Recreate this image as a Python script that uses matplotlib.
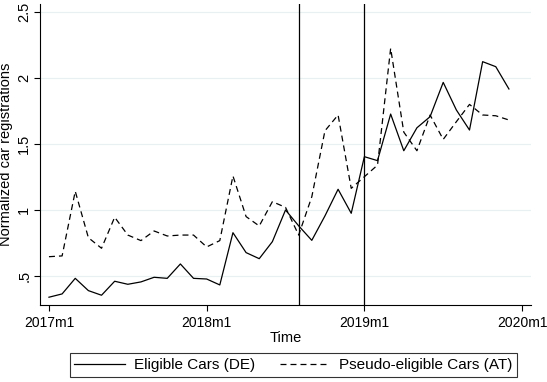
import matplotlib
matplotlib.use("Agg")
import matplotlib.pyplot as plt
from matplotlib.lines import Line2D

plt.rcParams['font.family'] = ['Liberation Sans', 'DejaVu Sans']
plt.rcParams['lines.scale_dashes'] = False

# Monthly series, 2017m1 .. 2019m12
months = [f"{y}m{m}" for y in (2017, 2018, 2019) for m in range(1, 13)]
eligible_de = [0.339, 0.364, 0.482, 0.389, 0.354, 0.460, 0.437, 0.455, 0.490, 0.482, 0.591, 0.482,
               0.477, 0.432, 0.828, 0.677, 0.631, 0.760, 1.000, 0.880, 0.770, 0.955, 1.157, 0.975,
               1.404, 1.374, 1.727, 1.449, 1.623, 1.707, 1.967, 1.758, 1.606, 2.124, 2.086, 1.917]
pseudo_at = [0.646, 0.652, 1.142, 0.790, 0.710, 0.945, 0.810, 0.768, 0.841, 0.803, 0.810, 0.810,
             0.720, 0.768, 1.258, 0.950, 0.879, 1.063, 1.020, 0.810, 1.100, 1.600, 1.720, 1.164,
             1.252, 1.340, 2.225, 1.590, 1.449, 1.720, 1.535, 1.669, 1.800, 1.720, 1.714, 1.682]
event_months = ["2018m8", "2019m1"]
xtick_labels = ["2017m1", "2018m1", "2019m1", "2020m1"]
ytick_values = [0.5, 1.0, 1.5, 2.0, 2.5]
ytick_labels = [".5", "1", "1.5", "2", "2.5"]
series_names = ["Eligible Cars (DE)", "Pseudo-eligible Cars (AT)"]

x = list(range(len(months)))

W, H = 547, 382
fig = plt.figure(figsize=(W / 100, H / 100), dpi=100)
ax = fig.add_axes([39.5 / W, 1 - 305 / H, (531 - 39.5) / W, (305 - 4) / H])

for v in ytick_values:
    ax.axhline(v, color="#e8f0f2", lw=0.9, zorder=0)

dash = (4.3, 2.9)
ax.plot(x, eligible_de, color="black", lw=0.9, zorder=3)
ax.plot(x, pseudo_at, color="black", lw=0.9, dashes=dash, zorder=3)

for m in event_months:
    ax.axvline(months.index(m), color="black", lw=0.9, zorder=2)

ax.set_xlim(-0.72, 36.68)
ax.set_ylim(0.28, 2.561)

ax.set_xticks([0, 12, 24, 36])
ax.set_xticklabels(xtick_labels)
ax.set_yticks(ytick_values)
ax.set_yticklabels(ytick_labels, rotation=90, va="center")

for s in ("top", "right"):
    ax.spines[s].set_visible(False)
for s in ("left", "bottom"):
    ax.spines[s].set_linewidth(0.8)
    ax.spines[s].set_color("black")
ax.tick_params(axis="both", length=4, width=0.8, color="black")
ax.tick_params(axis="x", pad=4, labelsize=10)
ax.tick_params(axis="y", pad=2, labelsize=10.5)

ax.set_xlabel("Time", fontsize=10.5, labelpad=1)
ax.set_ylabel("Normalized car registrations", fontsize=10.5)
ax.yaxis.set_label_coords((13 - 39.5) / (531 - 39.5), 0.5)

handles = [Line2D([], [], color="black", lw=0.9),
           Line2D([], [], color="black", lw=0.9, dashes=dash)]
leg = fig.legend(handles, series_names, loc="center", bbox_to_anchor=(293.5 / W, 1 - 365 / H),
                 ncol=2, frameon=True, fancybox=False, fontsize=11, handlelength=3.3,
                 handletextpad=0.6, columnspacing=1.6, borderpad=0.3, borderaxespad=0,
                 edgecolor="black")
leg.get_frame().set_linewidth(0.8)

fig.savefig("out.png", dpi=100)
